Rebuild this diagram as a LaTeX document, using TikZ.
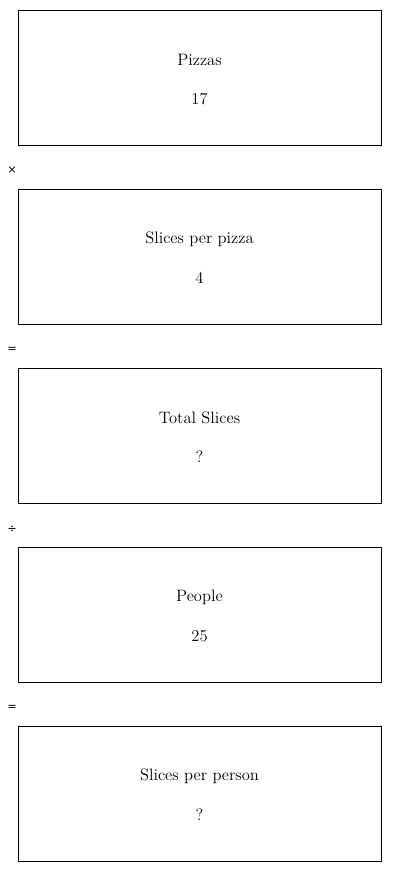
\documentclass[tikz,border=0pt]{standalone}
\usepackage{fontspec}
\newfontfamily\opfont{DejaVu Sans}
\begin{document}
\begin{tikzpicture}[x=0.75pt,y=-0.75pt,
  card/.style={draw=black,line width=0.75pt,minimum width=363*0.75pt,minimum height=135*0.75pt,inner sep=0pt},
  lbl/.style={font=\fontsize{12.4}{14}\selectfont,inner sep=0pt},
  op/.style={font=\opfont\fontsize{8.5}{10}\selectfont,inner sep=0pt}]
\useasboundingbox (0,0) rectangle (400,872);
\node[card] (b1) at (199.5,77.5) {};
\node[card] (b2) at (199.5,256.5) {};
\node[card] (b3) at (199.5,435.5) {};
\node[card] (b4) at (199.5,614.5) {};
\node[card] (b5) at (199.5,793.5) {};
\node[lbl] (t1) at (199.5,60) {Pizzas};
\node[lbl] (v1) at (199.5,99) {17};
\node[lbl] (t2) at (199.5,239) {Slices per pizza};
\node[lbl] (v2) at (199.5,278) {4};
\node[lbl] (t3) at (199.5,418) {Total Slices};
\node[lbl] (v3) at (199.5,457) {?};
\node[lbl] (t4) at (199.5,597) {People};
\node[lbl] (v4) at (199.5,636) {25};
\node[lbl] (t5) at (199.5,776) {Slices per person};
\node[lbl] (v5) at (199.5,815) {?};
\node[op] (o1) at (12,170.5) {×};
\node[op] (o2) at (12,350) {=};
\node[op] (o3) at (12,529) {÷};
\node[op] (o4) at (12,708) {=};
\end{tikzpicture}
\end{document}
